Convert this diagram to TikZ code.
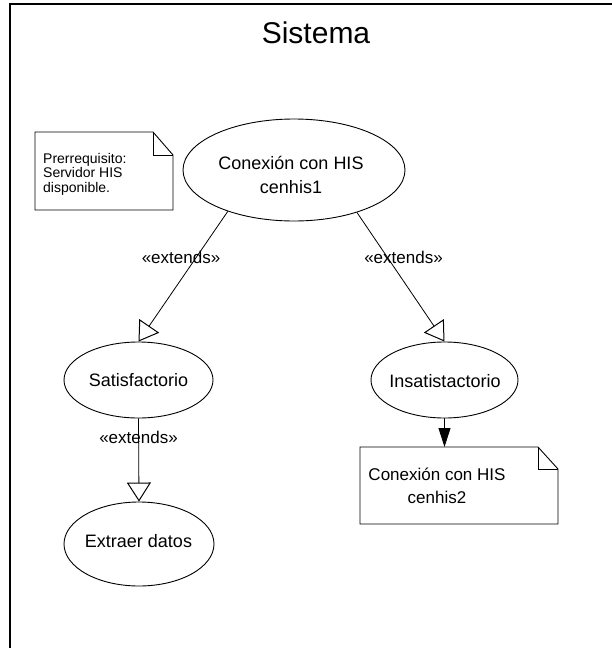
\documentclass[tikz,border=0pt]{standalone}
\usepackage{fontspec}
\setmainfont{Liberation Sans}
\usetikzlibrary{shapes.geometric,arrows.meta}
\begin{document}
\begin{tikzpicture}[x=1pt,y=-1pt,
  usecase/.style={draw, ellipse, inner sep=0pt, line width=0.9pt},
  ucname/.style={font=\fontsize{18}{24}\selectfont, align=center, inner sep=0pt},
  extarrow/.style={draw, line width=0.8pt, -{Triangle[open,length=19pt,width=24pt,line width=1pt]}},
  deparrow/.style={draw, line width=0.9pt, -{Triangle[length=19pt,width=12pt]}},
  stereo/.style={font=\fontsize{17}{20}\selectfont, inner sep=0pt},
  notebox/.style={draw, line width=0.9pt, line join=miter},
  notetext/.style={inner sep=0pt},
]
\useasboundingbox (0,0) rectangle (612,648);

% system boundary
\draw[line width=2pt] (10,648) -- (10,4) -- (612,4);
\node[font=\fontsize{30}{33}\selectfont, inner sep=0pt] (title) at (316,33) {Sistema};

% use cases
\node[usecase, minimum width=222pt, minimum height=102pt] (main) at (294,170) {};
\node[ucname] (mainlbl) at (291,174.5) {Conexión con HIS\\cenhis1};

\node[usecase, minimum width=149pt, minimum height=76pt] (sat) at (138.5,380) {};
\node[ucname] (satlbl) at (sat) {Satisfactorio};

\node[usecase, minimum width=147pt, minimum height=76pt] (ins) at (444.5,380) {};
\node[ucname] (inslbl) at (445,381) {Insatistactorio};

\node[usecase, minimum width=150pt, minimum height=84pt] (ext) at (139,544) {};
\node[ucname] (extlbl) at (138.5,541) {Extraer datos};

% note: precondition
\draw[notebox] (35,132) -- (153,132) -- (173,155) -- (173,210) -- (35,210) -- cycle;
\draw[notebox] (153,132) -- (153,155) -- (173,155);
\node[notetext, font=\fontsize{14}{14.5}\selectfont, align=left, anchor=west] (pre) at (43,174)
  {Prerrequisito:\\Servidor HIS\\disponible.};

% note: second connection
\draw[notebox] (360,447) -- (538,447) -- (558,469) -- (558,524) -- (360,524) -- cycle;
\draw[notebox] (538,447) -- (538,469) -- (558,469);
\node[notetext, font=\fontsize{17}{23}\selectfont, align=center] (note2) at (437,485.5)
  {Conexión con HIS\\cenhis2};
\coordinate (note2top) at (444.5,447);

% relations
\draw[extarrow] (main.212.7) -- (sat.north);
\draw[extarrow] (main.326.5) -- (ins.north);
\draw[extarrow] (sat.south) -- (ext.north);
\draw[deparrow] (ins.south) -- (note2top);

\node[stereo] (e1) at (181,257) {«extends»};
\node[stereo] (e2) at (403.5,257) {«extends»};
\node[stereo] (e3) at (138.5,437) {«extends»};
\end{tikzpicture}
\end{document}
